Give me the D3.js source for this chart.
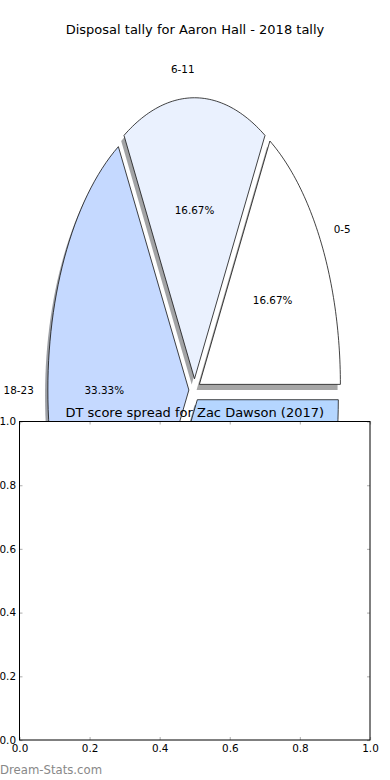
<!DOCTYPE html>
<html>
<head>
<meta charset="utf-8">
<script src="https://cdn.jsdelivr.net/npm/d3@7"></script>
<style>
  body { margin: 0; background: #fff; }
  svg { display: block; font-family: "DejaVu Sans", sans-serif; }
</style>
</head>
<body>
<div id="chart"></div>
<script>
// pie data (disposal tally)
var categories = ["0-5", "6-11", "18-23", "12-17"];
var counts = [1, 1, 2, 2];
var sliceColors = ["#ffffff", "#eaf1fe", "#c5d9ff", "#b5d6ff"];

// empty second axes
var xTickValues = [0, 0.2, 0.4, 0.6, 0.8, 1.0];
var yTickValues = [0, 0.2, 0.4, 0.6, 0.8, 1.0];

var W = 390, H = 780;
var cx = 194.5, cy = 390, rx = 141, ry = 281;   // pie is stretched into an ellipse
var explode = 0.04, labelDist = 1.1, pctDist = 0.6;

var svg = d3.select("#chart").append("svg")
    .attr("width", W).attr("height", H);

// unit-circle coords -> pixels
var px = d3.scaleLinear().domain([-1, 1]).range([cx - rx, cx + rx]);
var py = d3.scaleLinear().domain([-1, 1]).range([cy + ry, cy - ry]);

var pie = d3.pie().sort(null).value(function(d) { return d.value; })
    .startAngle(0).endAngle(2 * Math.PI);
var slices = pie(categories.map(function(c, i) { return {name: c, value: counts[i], color: sliceColors[i]}; }));
var total = d3.sum(counts);

// wedge outline as polygon (angles counterclockwise from east, like matplotlib)
function wedgePoints(d, dx, dy) {
  var mid = (d.startAngle + d.endAngle) / 2;
  var ox = explode * Math.cos(mid) + dx, oy = explode * Math.sin(mid) + dy;
  var pts = [[ox, oy]];
  var n = 60;
  for (var k = 0; k <= n; k++) {
    var t = d.startAngle + (d.endAngle - d.startAngle) * k / n;
    pts.push([ox + Math.cos(t), oy + Math.sin(t)]);
  }
  return pts;
}
var line = d3.line().x(function(p) { return px(p[0]); }).y(function(p) { return py(p[1]); });

function shadowColor(c) {
  var rgb = d3.rgb(c);
  return d3.rgb(rgb.r * 0.3, rgb.g * 0.3, rgb.b * 0.3).toString();
}

var pieG = svg.append("g");
// shadows first
pieG.selectAll(".shadow").data(slices).enter().append("path")
    .attr("class", "shadow")
    .attr("d", function(d) { return line(wedgePoints(d, -0.02, -0.02)) + "Z"; })
    .attr("fill", function(d) { return shadowColor(d.data.color); })
    .attr("fill-opacity", 0.5)
    .attr("stroke", "none");

pieG.selectAll(".wedge").data(slices).enter().append("path")
    .attr("class", "wedge")
    .attr("d", function(d) { return line(wedgePoints(d, 0, 0)) + "Z"; })
    .attr("fill", function(d) { return d.data.color; })
    .attr("stroke", "#111")
    .attr("stroke-width", 0.8)
    .attr("stroke-linejoin", "miter");

// category labels
pieG.selectAll(".lab").data(slices).enter().append("text")
    .attr("class", "lab")
    .attr("x", function(d) { var m = (d.startAngle + d.endAngle) / 2; return px((explode + labelDist) * Math.cos(m)); })
    .attr("y", function(d) { var m = (d.startAngle + d.endAngle) / 2; return py((explode + labelDist) * Math.sin(m)); })
    .attr("dy", "0.35em")
    .attr("text-anchor", function(d) { var m = (d.startAngle + d.endAngle) / 2; return Math.cos(m) > 1e-6 ? "start" : "end"; })
    .style("font-size", "10.4px")
    .text(function(d) { return d.data.name; });

// percentage labels
var pct = d3.format(".2f");
pieG.selectAll(".pct").data(slices).enter().append("text")
    .attr("class", "pct")
    .attr("x", function(d) { var m = (d.startAngle + d.endAngle) / 2; return px((explode + pctDist) * Math.cos(m)); })
    .attr("y", function(d) { var m = (d.startAngle + d.endAngle) / 2; return py((explode + pctDist) * Math.sin(m)); })
    .attr("dy", "0.35em")
    .attr("text-anchor", "middle")
    .style("font-size", "10.4px")
    .text(function(d) { return pct(d.value / total * 100) + "%"; });

svg.append("text")
    .attr("x", 195).attr("y", 34)
    .attr("text-anchor", "middle")
    .style("font-size", "13px")
    .text("Disposal tally for Aaron Hall - 2018 tally");

// second (empty) axes drawn over the pie
var ax = {left: 19.5, right: 370, top: 421.5, bottom: 740};
var xs = d3.scaleLinear().domain([0, 1]).range([ax.left, ax.right]);
var ys = d3.scaleLinear().domain([0, 1]).range([ax.bottom, ax.top]);

svg.append("text")
    .attr("x", (ax.left + ax.right) / 2).attr("y", 417)
    .attr("text-anchor", "middle")
    .style("font-size", "13px")
    .text("DT score spread for Zac Dawson (2017)");

svg.append("rect")
    .attr("x", ax.left).attr("y", ax.top)
    .attr("width", ax.right - ax.left).attr("height", ax.bottom - ax.top)
    .attr("fill", "#fff");

var fmt = d3.format(".1f");
function styleAxis(g) {
  g.select(".domain").remove();
  g.selectAll(".tick line").attr("stroke", "#bbb").attr("stroke-width", 1.2);
  g.selectAll(".tick text").attr("fill", "#000").style("font-size", "10.4px")
    .style("font-family", "'DejaVu Sans', sans-serif");
}
svg.append("g").attr("transform", "translate(0," + ax.bottom + ")")
    .call(d3.axisBottom(xs).tickValues(xTickValues).tickFormat(fmt).tickSize(-3).tickPadding(4.5))
    .call(styleAxis);
svg.append("g").attr("transform", "translate(" + ax.left + ",0)")
    .call(d3.axisLeft(ys).tickValues(yTickValues).tickFormat(fmt).tickSize(-3).tickPadding(3.5))
    .call(styleAxis);
svg.append("g").attr("transform", "translate(0," + ax.top + ")")
    .call(d3.axisTop(xs).tickValues(xTickValues).tickFormat("").tickSize(-3))
    .call(styleAxis);
svg.append("g").attr("transform", "translate(" + ax.right + ",0)")
    .call(d3.axisRight(ys).tickValues(yTickValues).tickFormat("").tickSize(-3))
    .call(styleAxis);

svg.append("rect")
    .attr("x", ax.left).attr("y", ax.top)
    .attr("width", ax.right - ax.left).attr("height", ax.bottom - ax.top)
    .attr("fill", "none").attr("stroke", "#000").attr("stroke-width", 1);

// watermark
svg.append("text")
    .attr("x", 0).attr("y", 774)
    .style("font-size", "11.7px")
    .attr("fill", "#888")
    .text("Dream-Stats.com");
</script>
</body>
</html>
